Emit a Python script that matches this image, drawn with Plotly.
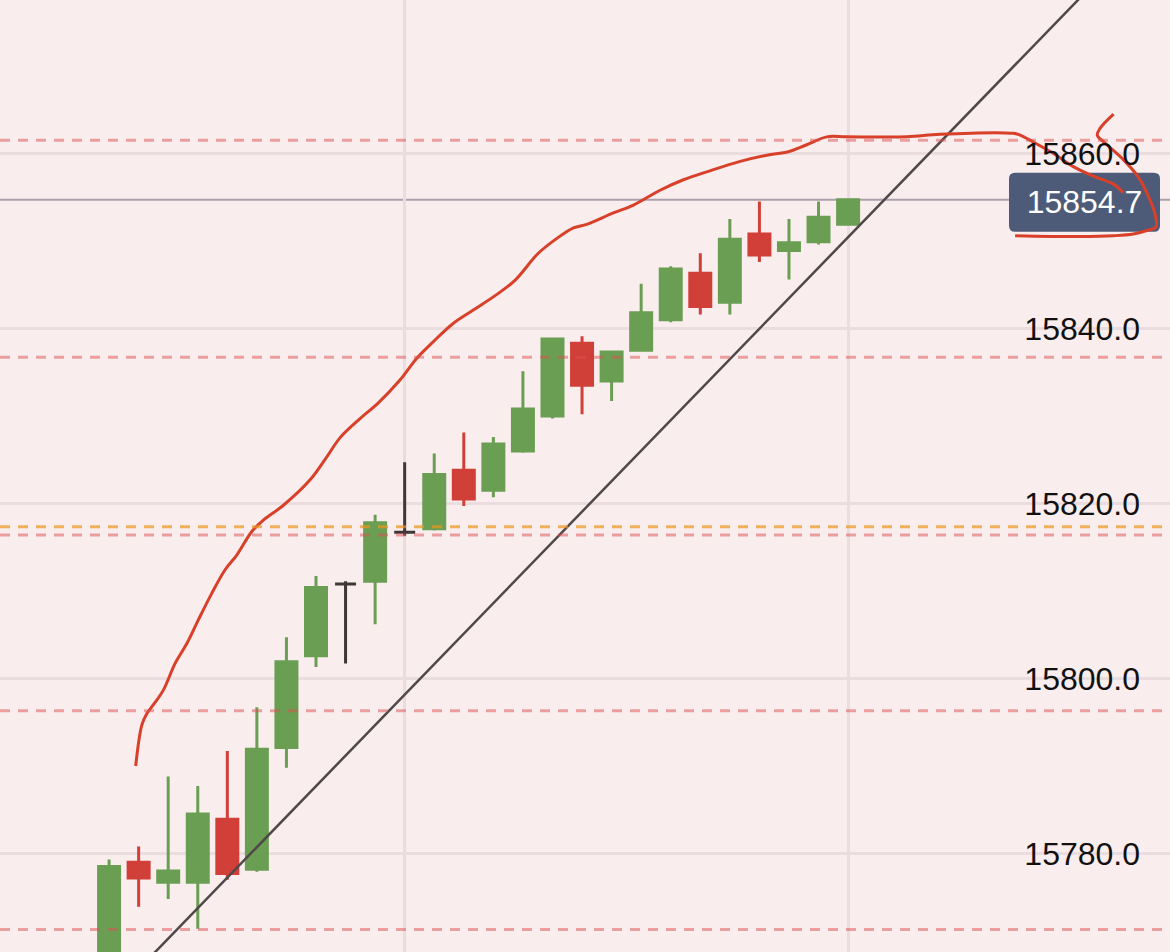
import plotly.graph_objects as go

# ---------------- data ----------------
candle_idx = list(range(26))
opens = [15765.0, 15779.0, 15776.7, 15776.7, 15783.9, 15778.2, 15792.1, 15802.6, 15810.8, 15811.1,
         15816.7, 15817.1, 15823.8, 15821.5, 15826.0, 15830.0, 15838.3, 15834.0, 15837.5, 15841.0,
         15846.3, 15843.0, 15850.8, 15848.9, 15849.9, 15851.9]
highs = [15779.3, 15780.8, 15788.8, 15787.7, 15791.7, 15796.7, 15804.7, 15811.7, 15811.1, 15818.7,
         15824.7, 15825.7, 15828.1, 15827.6, 15835.1, 15838.9, 15839.1, 15837.4, 15845.1, 15847.1,
         15848.6, 15852.5, 15854.5, 15852.5, 15854.5, 15854.7]
lows = [15760.0, 15773.9, 15774.8, 15771.4, 15777.0, 15777.9, 15789.8, 15801.3, 15801.7, 15806.2,
        15816.3, 15816.9, 15819.7, 15820.7, 15825.8, 15829.7, 15830.2, 15831.7, 15837.4, 15840.7,
        15841.6, 15841.6, 15847.6, 15845.6, 15849.6, 15851.9]
closes = [15778.5, 15777.2, 15778.0, 15784.5, 15777.7, 15791.9, 15801.9, 15810.4, 15810.8, 15817.8,
          15816.7, 15823.3, 15820.5, 15826.8, 15830.8, 15838.8, 15833.5, 15837.3, 15841.8, 15846.8,
          15842.5, 15850.2, 15848.4, 15849.8, 15852.7, 15854.7]

y_ticks = [15780, 15800, 15820, 15840, 15860]
x_grid = [10, 25]
red_levels = [15861.5, 15836.7, 15816.4, 15796.3, 15771.3]
orange_levels = [15817.35]
last_price = closes[-1]

trend_x = [0, 34]
trend_y = [15763.3, 15881.8]

# hand-drawn red strokes (candle-index units, price units)
stroke_a_x = [0.90, 1.11, 1.28, 1.50, 1.84, 2.23, 2.63, 3.02, 3.47, 3.92, 4.32, 4.83, 5.22, 5.90, 6.80,
              7.36, 7.81, 8.49, 9.11, 9.84, 10.41, 10.97, 11.65, 12.32, 13.12, 13.73, 14.52, 15.15,
              15.71, 16.16, 17.06, 17.74, 18.64, 19.43, 20.22, 21.35, 22.25, 22.98, 23.60, 24.28,
              24.96, 26.99, 28.11, 30.59, 30.82, 31.27, 31.95, 32.62, 33.30, 33.98, 34.31]
stroke_a_y = [15790.0, 15794.7, 15796.0, 15797.0, 15798.7, 15801.7, 15804.0, 15806.7, 15809.7, 15812.4,
              15814.1, 15816.8, 15818.1, 15819.8, 15822.7, 15825.3, 15827.5, 15829.7, 15831.5, 15834.1,
              15836.6, 15838.5, 15840.6, 15842.1, 15843.9, 15845.5, 15848.6, 15850.3, 15851.5, 15851.9,
              15853.2, 15854.1, 15855.8, 15857.0, 15857.9, 15859.1, 15859.8, 15860.2, 15861.0, 15861.9,
              15861.9, 15861.9, 15862.2, 15862.3, 15862.1, 15861.3, 15860.0, 15858.5, 15857.4, 15856.5,
              15855.5]
stroke_b_x = [33.98, 33.53, 33.43, 33.69, 34.31, 34.82, 35.16, 35.39, 35.41, 35.11, 34.65, 33.98, 32.85, 30.65]
stroke_b_y = [15864.5, 15862.9, 15862.1, 15861.2, 15859.3, 15857.3, 15855.1, 15853.0, 15851.6, 15851.2,
              15850.8, 15850.6, 15850.5, 15850.6]

# ---------------- style ----------------
BG = "#F9EDED"
GRID = "#EBDDDF"
GREEN = "#6A9F53"
RED = "#D03F38"
DARK = "#3E3637"
LABEL_BG = "#4D5B78"
FONT = "Liberation Sans, Arial, Helvetica, sans-serif"

fig = go.Figure()

normal = [i for i in candle_idx if opens[i] != closes[i]]
doji = [i for i in candle_idx if opens[i] == closes[i]]

fig.add_trace(go.Candlestick(
    x=normal,
    open=[opens[i] for i in normal], high=[highs[i] for i in normal],
    low=[lows[i] for i in normal], close=[closes[i] for i in normal],
    increasing=dict(line=dict(color=GREEN, width=3), fillcolor=GREEN),
    decreasing=dict(line=dict(color=RED, width=3), fillcolor=RED),
    hoverinfo="skip",
))
fig.add_trace(go.Candlestick(
    x=doji,
    open=[opens[i] for i in doji], high=[highs[i] for i in doji],
    low=[lows[i] for i in doji], close=[closes[i] for i in doji],
    increasing=dict(line=dict(color=DARK, width=3), fillcolor=DARK),
    decreasing=dict(line=dict(color=DARK, width=3), fillcolor=DARK),
    hoverinfo="skip",
))

fig.add_trace(go.Scatter(x=trend_x, y=trend_y, mode="lines",
                         line=dict(color="#4F4849", width=2.5), hoverinfo="skip"))
fig.add_trace(go.Scatter(x=stroke_a_x, y=stroke_a_y, mode="lines",
                         line=dict(color="#D8402A", width=3, shape="spline"), hoverinfo="skip"))
fig.add_trace(go.Scatter(x=stroke_b_x, y=stroke_b_y, mode="lines",
                         line=dict(color="#D8402A", width=3, shape="spline"), hoverinfo="skip"))

shapes = []
for lv in red_levels:
    shapes.append(dict(type="line", xref="paper", x0=0, x1=1, yref="y", y0=lv, y1=lv, layer="above",
                       line=dict(color="rgba(220,80,80,0.5)", width=3, dash="10px,8px")))
for lv in orange_levels:
    shapes.append(dict(type="line", xref="paper", x0=0, x1=1, yref="y", y0=lv, y1=lv, layer="above",
                       line=dict(color="rgba(235,150,30,0.7)", width=3, dash="10px,8px")))
shapes.append(dict(type="line", xref="paper", x0=0, x1=1, yref="y", y0=last_price, y1=last_price,
                   layer="between", line=dict(color="#ACA1AB", width=2)))
# rounded label box for the last price (pixel-sized, anchored at the right edge / last price)
shapes.append(dict(
    type="path", layer="between",
    xref="paper", xsizemode="pixel", xanchor=1,
    yref="y", ysizemode="pixel", yanchor=last_price,
    path=("M -155,27.2 L -16,27.2 Q -10,27.2 -10,21.2 L -10,-25.8 Q -10,-31.8 -16,-31.8 "
          "L -155,-31.8 Q -161,-31.8 -161,-25.8 L -161,21.2 Q -161,27.2 -155,27.2 Z"),
    fillcolor=LABEL_BG, line=dict(width=0),
))

fig.add_annotation(x=1, xref="paper", xanchor="right", xshift=-10,
                   y=last_price, yref="y", yanchor="middle", yshift=-2,
                   text=f"{last_price:.1f}", showarrow=False,
                   font=dict(size=32, color="white", family=FONT),
                   width=149, height=49, borderpad=0, align="center")

fig.update_layout(
    width=1170, height=952,
    margin=dict(l=0, r=0, t=0, b=0),
    paper_bgcolor=BG, plot_bgcolor=BG,
    showlegend=False,
    boxgap=0.29, boxgroupgap=0,
    shapes=shapes,
    font=dict(family=FONT),
    xaxis=dict(range=[-3.69, 35.89], tickvals=x_grid, showticklabels=False, ticks="",
               showgrid=True, gridcolor=GRID, gridwidth=2.5, zeroline=False, showline=False,
               rangeslider=dict(visible=False)),
    yaxis=dict(range=[15768.74, 15877.54], side="right", tickvals=y_ticks, tickformat=".1f",
               ticklabelposition="inside", ticks="", ticklabelstandoff=27,
               tickfont=dict(size=32, color="#111111", family=FONT),
               showgrid=True, gridcolor=GRID, gridwidth=2.5, zeroline=False, showline=False),
)

fig.write_html("out.html", config={"displayModeBar": False},
               post_script="document.body.style.margin='0';document.body.style.background='" + BG + "';")
